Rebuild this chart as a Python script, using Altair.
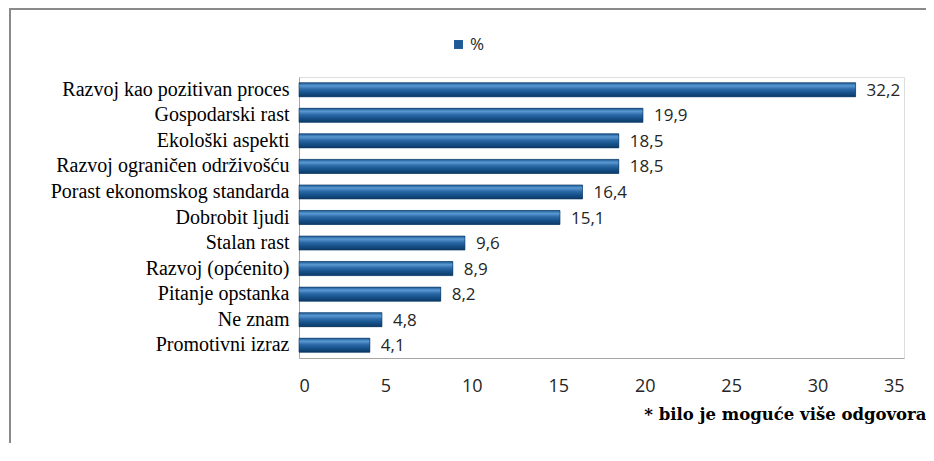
import altair as alt
import pandas as pd

categories = [
    "Razvoj kao pozitivan proces",
    "Gospodarski rast",
    "Ekološki aspekti",
    "Razvoj ograničen održivošću",
    "Porast ekonomskog standarda",
    "Dobrobit ljudi",
    "Stalan rast",
    "Razvoj (općenito)",
    "Pitanje opstanka",
    "Ne znam",
    "Promotivni izraz",
]
values = [32.2, 19.9, 18.5, 18.5, 16.4, 15.1, 9.6, 8.9, 8.2, 4.8, 4.1]
x_ticks = [0, 5, 10, 15, 20, 25, 30, 35]
series_name = "%"
footnote = "* bilo je moguće više odgovora"

df = pd.DataFrame({
    "cat": categories,
    "val": values,
    "series": [series_name] * len(values),
})
df["label"] = df["val"].map(lambda v: f"{v:.1f}".replace(".", ","))

W, H = 605, 281

x_enc = alt.X(
    "val:Q",
    scale=alt.Scale(domain=[0, 35], nice=False),
    axis=alt.Axis(
        values=x_ticks,
        grid=False,
        ticks=False,
        domainColor="#A6A6A6",
        domainWidth=1,
        labelFont="Open Sans",
        labelFontSize=18,
        labelColor="#262626",
        labelPadding=19,
        title=footnote,
        titleFont="DejaVu Serif",
        titleFontSize=16.5,
        titleFontWeight="bold",
        titleColor="#000000",
        titleAnchor="end",
        titleAlign="right",
        titleBaseline="alphabetic",
        titleX=627,
        titleY=61,
    ),
)
y_enc = alt.Y(
    "cat:N",
    sort=categories,
    scale=alt.Scale(paddingInner=0.45, paddingOuter=0.225),
    axis=alt.Axis(
        title=None,
        ticks=False,
        grid=False,
        domainColor="#A6A6A6",
        domainWidth=1,
        labelFont="Liberation Serif",
        labelFontSize=20,
        labelColor="#000000",
        labelPadding=10,
        labelLimit=400,
    ),
)

base = alt.Chart(df)

bars_legend = base.mark_bar().encode(
    x=x_enc,
    y=y_enc,
    color=alt.Color(
        "series:N",
        scale=alt.Scale(range=["#1D5A95"]),
        legend=alt.Legend(
            title=None,
            orient="none",
            legendX=151,
            legendY=-41,
            symbolType="square",
            symbolSize=80,
            symbolStrokeWidth=0,
            labelFont="Open Sans",
            labelFontSize=17,
            labelColor="#262626",
            padding=0,
            labelOffset=3,
        ),
    ),
)

grad = alt.Gradient(
    gradient="linear",
    stops=[
        alt.GradientStop(color="#1E5C98", offset=0),
        alt.GradientStop(color="#5A98D2", offset=0.22),
        alt.GradientStop(color="#2C6BA8", offset=0.45),
        alt.GradientStop(color="#17528C", offset=0.7),
        alt.GradientStop(color="#0C3A66", offset=1),
    ],
    x1=0, x2=0, y1=0, y2=1,
)

bars_grad = base.mark_bar(color=grad, stroke="#0B3560", strokeWidth=0.6).encode(
    x=x_enc,
    y=y_enc,
)

text = base.mark_text(
    align="left", baseline="middle", dx=11, dy=1,
    font="Open Sans", fontSize=17, color="#262626",
).encode(
    x=x_enc,
    y=y_enc,
    text="label:N",
)

frame_df = pd.DataFrame({"k": [0]})
frame_top = alt.Chart(frame_df).mark_rule(color="#8A8A8A", strokeWidth=2).encode(
    x=alt.value(-290), x2=alt.value(700), y=alt.value(-68)
)
frame_left = alt.Chart(frame_df).mark_rule(color="#8A8A8A", strokeWidth=2).encode(
    x=alt.value(-289), y=alt.value(-69), y2=alt.value(420)
)

chart = alt.layer(bars_legend, bars_grad, text, frame_top, frame_left).properties(
    width=W,
    height=H,
    autosize=alt.AutoSizeParams(type="none"),
    padding={"left": 291, "top": 69, "right": 22, "bottom": 85},
).configure_view(stroke=None).configure(background="white")

chart.save("out.html", embed_options={"renderer": "svg", "actions": False})
